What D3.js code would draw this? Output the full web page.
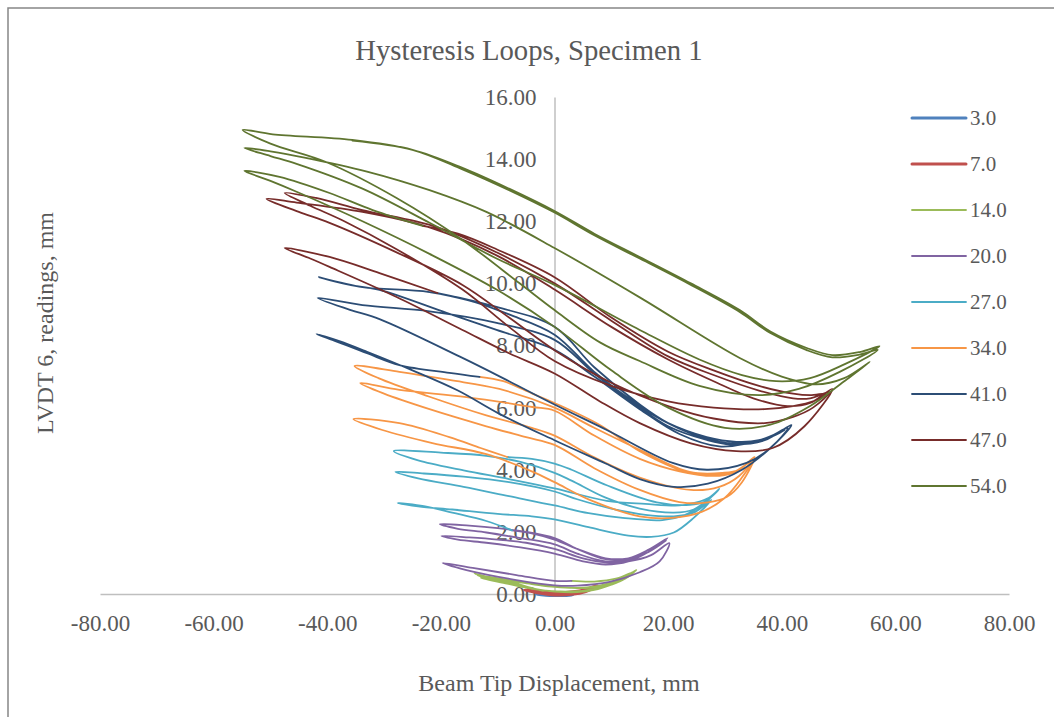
<!DOCTYPE html>
<html>
<head>
<meta charset="utf-8">
<script src="https://cdn.jsdelivr.net/npm/d3@7"></script>
<style>
  html, body { margin: 0; padding: 0; background: #ffffff; }
  svg { display: block; }
  text { font-family: "Liberation Serif", "Times New Roman", serif; fill: #595959; }
</style>
</head>
<body>
<svg id="chart" width="1054" height="717"></svg>
<script>
// ---- Data: LVDT 6 reading (mm) against beam tip displacement (mm), per amplitude stage ----
const seriesLabels = ["3.0", "7.0", "14.0", "20.0", "27.0", "34.0", "41.0", "47.0", "54.0"];
const xTicks = [-80, -60, -40, -20, 0, 20, 40, 60, 80];
const yTicks = [0, 2, 4, 6, 8, 10, 12, 14, 16];

const loop3 = [
  [0,-0.02],[-1.5,-0.01],[-3.2,-0.01],[-1.5,-0.04],[0,-0.05],[1.6,-0.05],[3.2,-0.03],
  [1.6,-0.03],[0,-0.03],[-1.6,-0.02],[-3,-0.01],[-1.5,-0.04],[0,-0.05],[1.6,-0.05],
  [3.1,-0.03],[1.5,-0.03],[0,-0.03]
];

const loop7 = [
  [0,0.02],[-2.5,0.06],[-5.3,0.13],
  [-3,0.05],[0,-0.02],[3,0.0],[5.5,0.1],[7.5,0.27],
  [5,0.12],[2,0.05],[0,0.05],[-2.5,0.08],[-5,0.12],
  [-3,0.04],[0,-0.03],[3,-0.01],[5.5,0.08],[7.3,0.24],
  [5,0.11],[2,0.04],[0,0.04],[-2.5,0.07],[-4.8,0.1],
  [-2.5,0.03],[0,-0.03],[3,-0.01],[5.5,0.08],[7.2,0.22],
  [5,0.1],[2,0.04],[-2,0.07]
];

const loop14 = [
  [-2,0.1],[-6,0.28],[-10,0.46],[-14.1,0.66],
  [-11,0.5],[-7.9,0.4],[-3,0.15],[0,0.08],[4,0.06],[7,0.13],[10,0.3],[12.5,0.5],[14.4,0.77],
  [12,0.5],[9,0.3],[6,0.2],[3,0.2],[0,0.25],[-4.9,0.36],[-9,0.48],[-13.6,0.6],
  [-10,0.42],[-6,0.24],[-2,0.12],[1,0.08],[5,0.1],[9,0.25],[12,0.45],[13.9,0.72],
  [11.5,0.48],[8,0.27],[4,0.2],[0,0.23],[-4,0.32],[-9,0.44],[-13,0.52],
  [-9,0.36],[-5,0.21],[-1,0.1],[3,0.08],[7,0.15],[10.5,0.35],[13.5,0.68],
  [11,0.5],[7,0.4],[3,0.42]
];

const loop20 = [
  [3,0.42],[0,0.42],[-6.7,0.61],[-14.4,0.84],[-19.7,1.0],
  [-15.5,0.77],[-6.7,0.45],[0,0.28],[4,0.27],[9.7,0.39],[15,0.7],[18.5,1.05],[20.2,1.64],
  [17,1.25],[13,1.05],[9,1.02],[5,1.15],[0,1.45],[-5,1.65],[-10,1.75],[-15,1.82],[-19.9,1.87],
  [-17,1.75],[-12,1.65],[-6,1.5],[0,1.3],[5,1.05],[9,0.95],[13,1.05],[16.5,1.35],[19.9,1.8],
  [16.5,1.42],[13,1.15],[9,1.12],[4,1.45],[0,1.8],[-5,2.0],[-10,2.12],[-15,2.2],[-20.2,2.25],
  [-17,2.1],[-12,1.98],[-6,1.8],[0,1.6],[4,1.3],[9,1.05],[13,1.1],[16.5,1.35],[19.6,1.72],
  [16.5,1.35],[13,1.15],[9,1.15],[4,1.45],[0,1.75],[-4,1.95],[-7.5,2.05]
];

const loop27 = [
  [-7.5,2.05],[-12,2.35],[-18,2.62],[-23,2.83],[-27.6,2.93],
  [-24,2.82],[-18,2.72],[-10,2.58],[-4,2.5],[0,2.4],[6,2.15],[13,1.88],[17,1.84],[21,1.98],[24.5,2.45],[27.6,3.03],
  [24.5,2.62],[21,2.5],[16,2.55],[10,2.75],[4,3.05],[0,3.3],[-8,3.6],[-16,3.78],[-23,3.88],[-28,3.93],
  [-24,3.72],[-16,3.45],[-8,3.15],[0,2.85],[6,2.6],[12,2.45],[19,2.38],[23,2.55],[25.5,2.8],[27.6,3.12],
  [24.5,2.72],[21,2.62],[15,2.75],[9,3.1],[3,3.65],[0,3.9],[-6,4.25],[-12,4.45],[-20,4.55],[-28.3,4.6],
  [-24,4.3],[-16,3.98],[-8,3.7],[0,3.4],[9.2,3.0],[16,2.9],[22,2.85],[25,2.95],[27.2,3.1],[29,3.38],
  [26.5,2.98],[23.8,2.87],[18,2.95],[9.2,3.5],[3,4.0],[0,4.2],[-4,4.35],[-8.3,4.41]
];

const loop34 = [
  [-8.3,4.41],[-13,4.7],[-18.5,5.05],[-27.3,5.5],[-35.4,5.63],
  [-30.3,5.28],[-21.5,4.86],[-12,4.5],[-4,3.95],[0,3.6],[6.2,3.03],[15,2.5],[20.8,2.45],[26,2.65],[30,3.1],[32.8,3.7],[34.9,4.31],
  [31.5,3.9],[28,3.8],[22,3.95],[15,4.35],[7,5.1],[0,5.9],[-3.9,6.02],[-15.5,6.34],[-27.3,6.57],[-34.2,6.79],
  [-30,6.45],[-22,5.95],[-12,5.4],[-5,5.05],[0,4.8],[7,4.05],[15,3.35],[22,2.96],[27,2.95],[30.3,3.12],[33,3.6],[35.2,4.41],
  [32.5,4.0],[29.6,3.9],[23.8,3.93],[15,4.64],[7,5.35],[0,6.0],[-9.7,6.6],[-18.5,6.89],[-27.3,7.15],[-35.2,7.34],
  [-31,6.95],[-22,6.35],[-12,5.75],[-4,5.35],[0,5.1],[7,4.4],[15,3.75],[24,3.35],[29,3.45],[32.5,3.8],[34.5,4.25],
  [31.5,3.92],[28.5,3.85],[23,3.95],[15,4.6],[7.9,5.45],[0,6.15],[-3.9,6.45],[-9,6.85],[-13.2,6.99]
];

const loop41 = [
  [-13.2,6.99],[-18.5,7.12],[-27.3,7.37],[-33,7.75],[-39.1,8.18],[-41.9,8.37],
  [-38,8.15],[-33,7.8],[-25,7.2],[-17,6.55],[-9.7,5.8],[0,4.95],[9,4.2],[15,3.7],[21,3.45],[27,3.55],[33,4.0],[38,4.7],[41.7,5.44],
  [37,4.95],[31,4.82],[26.8,4.96],[20,5.4],[15,6.0],[7,7.1],[0,8.18],[-10.2,8.73],[-22,9.1],[-33.8,9.3],[-41.7,9.53],
  [-36,9.15],[-30.8,8.85],[-16.2,7.6],[-8,6.85],[0,6.1],[9.2,5.28],[20.8,4.22],[26.8,4.0],[33.8,4.22],[38,4.7],[41,5.34],
  [36.5,4.95],[31,4.85],[26.8,5.0],[20,5.5],[15,6.1],[7,7.3],[0,8.6],[-10.2,9.24],[-22,9.72],[-33.8,9.88],[-41.5,10.2],
  [-36,9.95],[-30.8,9.79],[-19,9.05],[-10.2,8.5],[0,7.86],[7,7.0],[15,5.95],[22,5.15],[29,4.75],[34,4.85],[38,5.05],[40.5,5.28],
  [36,4.95],[32,4.9],[26.8,5.05],[20,5.5],[15,6.05],[7,7.15],[0,8.35],[-8,9.0],[-14,9.4],[-20.8,9.69]
];

const loop47 = [
  [-20.6,9.69],[-30.8,10.33],[-39.6,10.85],[-47.5,11.14],
  [-43,10.8],[-39.6,10.53],[-27.8,9.56],[-16.2,8.5],[-8,7.75],[0,7.1],[8,6.2],[15,5.5],[24,4.85],[32,4.6],[38.4,4.7],[44,5.4],[48.9,6.6],
  [45,6.15],[41,6.05],[35,6.3],[28,6.85],[20,7.55],[10,8.6],[0,9.8],[-10.2,10.9],[-22,11.8],[-33.8,12.3],[-45.4,12.6],[-50.7,12.72],
  [-45,12.3],[-39.6,11.95],[-27.8,11.0],[-16.2,9.95],[-8,8.9],[0,7.85],[10,6.8],[20,6.05],[28,5.65],[37,5.5],[42,5.7],[45.5,6.0],[48.4,6.5],
  [45,6.3],[42,6.3],[36,6.55],[28,7.05],[20,7.65],[10,8.8],[0,10.0],[-10.2,11.0],[-20.8,11.82],[-33.8,12.36],[-42,12.75],[-47.5,12.91],
  [-43,12.5],[-37,12.0],[-27.8,11.1],[-16.2,9.8],[-8,8.6],[0,7.5],[10,6.7],[20,6.2],[28,6.0],[37,5.95],[42,6.05],[45.5,6.2],[47.8,6.45],
  [45,6.4],[42,6.45],[36,6.7],[28,7.2],[20,7.8],[10,8.9],[0,10.2],[-10.2,11.1],[-17,11.6],[-23.2,11.85]
];

const loop54 = [
  [-23.2,11.85],[-32.0,12.36],[-39.6,12.91],[-48.4,13.43],[-54.6,13.62],
  [-50,13.3],[-45.4,12.95],[-33.8,12.0],[-22.0,10.95],[-10.2,9.8],[0,8.6],[10,7.2],[20,6.0],[30,5.35],[38,5.45],[45,6.05],[51,6.85],[55.5,7.47],
  [51,6.95],[46,6.75],[40,7.0],[32.6,7.6],[15,9.55],[0,11.14],[-12,12.3],[-22,13.0],[-33,13.6],[-44,14.05],[-50,14.25],[-54.6,14.36],
  [-50,14.1],[-45.4,13.85],[-33.8,13.05],[-22,11.95],[-10.2,10.8],[0,9.95],[15,8.5],[25.5,7.55],[33,7.05],[39,6.85],[45,6.95],[51.1,7.4],[57.2,7.98],
  [53.7,7.79],[48.9,7.69],[44.4,7.92],[38,8.45],[32.6,9.14],[24,10.0],[15,10.85],[7,11.6],[0,12.33],[-8,13.05],[-16.2,13.72],[-25,14.3],[-35.6,14.62],[-49.6,14.8],[-54.9,14.94],
  [-50,14.5],[-40.1,13.9],[-27.8,12.75],[-16.2,11.4],[-6.2,10.01],[0,9.14],[8,8.1],[15,7.5],[25.5,6.7],[36,6.4],[43,6.6],[50.2,7.15],[56.9,7.86],
  [53.5,7.7],[48.9,7.62],[44.4,7.85],[38,8.4],[32.6,9.08],[24,9.95],[15,10.8],[7,11.55],[0,12.28],[-8,13.0],[-16.2,13.67],[-25,14.3],[-35.6,14.6]
];

const seriesData = [loop3, loop7, loop14, loop20, loop27, loop34, loop41, loop47, loop54];

// ---- Styling ----
const palette = ["#4F81BD", "#C0504D", "#9BBB59", "#8064A2", "#4BACC6", "#F79646", "#2C4D75", "#772C2A", "#5F7530"];
const strokeWidths = [3, 3, 1.8, 1.8, 1.8, 1.8, 1.8, 1.8, 1.8];

const svg = d3.select("#chart");

// chart area frame
svg.append("rect")
  .attr("x", 8).attr("y", 8)
  .attr("width", 1080).attr("height", 740)
  .attr("fill", "#ffffff")
  .attr("stroke", "#868686")
  .attr("stroke-width", 1.5);

const x = d3.scaleLinear().domain([-80, 80]).range([100, 1009]);
const y = d3.scaleLinear().domain([0, 16]).range([594, 97]);

// horizontal value axis through y = 0
const gx = svg.append("g")
  .attr("transform", `translate(0,${y(0)})`)
  .call(d3.axisBottom(x).tickValues(xTicks).tickSize(0).tickSizeOuter(0)
    .tickFormat(d => d.toFixed(2)));
gx.select(".domain").attr("stroke", "#BFBFBF").attr("stroke-width", 1.5);
gx.selectAll("text").attr("y", 37).attr("dy", null).style("font-size", "23px");

// vertical value axis through x = 0
const gy = svg.append("g")
  .attr("transform", `translate(${x(0)},0)`)
  .call(d3.axisLeft(y).tickValues(yTicks).tickSize(0).tickSizeOuter(0).tickPadding(18)
    .tickFormat(d => d.toFixed(2)));
gy.select(".domain").attr("stroke", "#BFBFBF").attr("stroke-width", 1.5);
gy.selectAll("text").style("font-size", "23px");

// hysteresis traces
const line = d3.line()
  .x(d => x(d[0]))
  .y(d => y(d[1]))
  .curve(d3.curveCatmullRom.alpha(0.5));

svg.append("g").selectAll("path")
  .data(seriesData)
  .join("path")
  .attr("d", d => line(d))
  .attr("fill", "none")
  .attr("stroke", (d, i) => palette[i])
  .attr("stroke-width", (d, i) => strokeWidths[i])
  .attr("stroke-linejoin", "round")
  .attr("stroke-linecap", "round");

// legend
const legend = svg.append("g");
const rowY = d3.scalePoint().domain(seriesLabels).range([118, 486]);
seriesLabels.forEach((lab, i) => {
  const yy = rowY(lab);
  legend.append("line")
    .attr("x1", 912).attr("x2", 966)
    .attr("y1", yy).attr("y2", yy)
    .attr("stroke", palette[i])
    .attr("stroke-width", strokeWidths[i])
    .attr("stroke-linecap", "round");
  legend.append("text")
    .attr("x", 970).attr("y", yy)
    .attr("dy", "0.35em")
    .style("font-size", "21px")
    .text(lab);
});

// titles
svg.append("text")
  .attr("x", 529).attr("y", 60)
  .attr("text-anchor", "middle")
  .style("font-size", "28.7px")
  .text("Hysteresis Loops, Specimen 1");

svg.append("text")
  .attr("x", 559).attr("y", 691)
  .attr("text-anchor", "middle")
  .style("font-size", "24px")
  .text("Beam Tip Displacement, mm");

svg.append("text")
  .attr("transform", "translate(53,323) rotate(-90)")
  .attr("text-anchor", "middle")
  .style("font-size", "24px")
  .text("LVDT 6, readings, mm");
</script>
</body>
</html>
